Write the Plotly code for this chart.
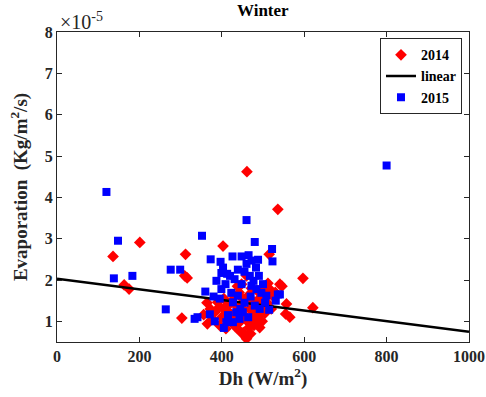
import numpy as np
import plotly.graph_objects as go

# 2014 (red diamonds)
x2014 = [136, 163, 175, 201, 303, 310, 316, 312, 403, 461, 536, 515, 541, 546, 557, 555, 565, 597, 621,
         356, 364, 365, 372, 383, 390, 395, 400, 405, 410, 415, 420, 423, 428, 435, 440, 442, 445, 448,
         450, 452, 455, 458, 460, 460, 462, 464, 466, 468, 470, 472, 475, 478, 480, 484, 486, 490, 492,
         495, 498, 505, 510, 516, 520, 525, 530, 378, 395, 430, 438, 450, 470, 485, 500, 445, 432, 410,
         505, 512]
y2014 = [2.57, 1.88, 1.78, 2.91, 1.08, 2.10, 2.05, 2.62, 2.82, 4.62, 3.71, 2.62, 1.90, 1.85, 1.42, 1.18, 1.10, 2.04, 1.33,
         1.16, 1.45, 0.94, 1.30, 1.22, 1.46, 1.35, 1.10, 1.55, 1.25, 1.40, 1.20, 1.46, 1.05, 1.38, 0.95, 1.70, 0.75, 1.90,
         1.55, 0.73, 1.15, 0.62, 0.58, 2.10, 1.00, 1.62, 0.85, 1.30, 0.70, 1.80, 1.05, 0.90, 1.20, 0.98, 1.50, 1.14, 0.85,
         1.35, 1.00, 1.20, 1.45, 1.78, 1.30, 1.60, 1.70, 1.05, 0.90, 1.60, 1.85, 1.30, 1.55, 1.75, 1.60, 1.35, 0.88, 0.82,
         1.80, 1.92]

# 2015 (blue squares)
x2015 = [120, 148, 138, 183, 264, 276, 299, 334, 341, 352, 360, 373, 371, 383, 397, 403, 399, 387, 409, 399,
         405, 411, 426, 448, 460, 480, 439, 431, 423, 439, 460, 472, 488, 468, 477, 472, 484, 496, 508, 522,
         523, 536, 531, 515, 427, 435, 451, 443, 427, 464, 480, 492, 800, 541, 455, 445, 470, 415, 420, 490,
         500, 455, 465, 483, 448, 413, 395, 380, 505]
y2015 = [4.13, 2.95, 2.04, 2.10, 1.29, 2.25, 2.25, 1.06, 1.10, 3.07, 1.72, 2.50, 1.17, 1.00, 2.44, 2.30, 2.17, 1.98, 1.90, 1.78,
         0.84, 0.98, 2.57, 2.57, 3.45, 2.92, 2.25, 2.02, 1.69, 1.62, 2.39, 2.47, 2.49, 2.10, 1.98, 1.86, 1.78, 1.69, 1.62, 2.75,
         2.45, 1.65, 1.50, 1.28, 1.46, 1.22, 1.22, 1.06, 0.98, 1.10, 1.38, 1.30, 4.77, 1.65, 1.45, 1.30, 1.60, 1.15, 2.10, 2.10,
         1.90, 2.20, 2.60, 2.30, 1.90, 2.15, 1.55, 1.60, 1.45]

# linear fit line (intercept, slope) in units of 1e-5
fit_intercept = 2.03
fit_slope = -0.00128
fit_x = [0, 1000]

FONT = "'Liberation Serif', 'Times New Roman', serif"
AX = "#262626"

fig = go.Figure()
fig.add_trace(go.Scatter(x=x2014, y=y2014, mode="markers", name="2014",
                         marker=dict(symbol="diamond", size=9, color="#ff0000", line=dict(width=0))))
lx = np.array(fit_x, dtype=float)
fig.add_trace(go.Scatter(x=lx, y=fit_intercept + fit_slope * lx, mode="lines", name="linear",
                         line=dict(color="black", width=2.5)))
fig.add_trace(go.Scatter(x=x2015, y=y2015, mode="markers", name="2015",
                         marker=dict(symbol="square", size=8, color="#0000ff", line=dict(width=0))))

axis_common = dict(showgrid=False, zeroline=False, showline=True, linecolor=AX, linewidth=1,
                   mirror="ticks", ticks="inside", ticklen=5, tickcolor=AX,
                   tickfont=dict(family=FONT, size=16, color=AX, weight="bold"))

fig.update_xaxes(range=[0, 1000], tick0=0, dtick=200,
                 title=dict(text="Dh (W/m<sup>2</sup>)",
                            font=dict(family=FONT, size=19, color=AX, weight="bold"), standoff=6),
                 **axis_common)
fig.update_yaxes(range=[0.5, 8], tickvals=[1, 2, 3, 4, 5, 6, 7, 8],
                 title=dict(text="Evaporation  (Kg/m<sup>2</sup>/s)",
                            font=dict(family=FONT, size=19, color=AX, weight="bold"), standoff=12),
                 **axis_common)

fig.update_layout(
    width=486, height=397,
    margin=dict(l=57, r=17, t=32, b=55, autoexpand=False),
    paper_bgcolor="white", plot_bgcolor="white",
    font=dict(family=FONT),
    showlegend=True,
    legend=dict(x=0.983, y=0.98, xanchor="right", yanchor="top",
                bgcolor="white", bordercolor=AX, borderwidth=1,
                font=dict(family=FONT, size=14, color="black", weight="bold"),
                itemwidth=30, tracegroupgap=0),
    annotations=[
        dict(text="Winter", x=0.5, y=1, xref="paper", yref="paper", xanchor="center", yanchor="bottom",
             yshift=10, showarrow=False, font=dict(family=FONT, size=17, color="black", weight="bold")),
        dict(text="×10<sup>-5</sup>", x=0, y=1, xref="paper", yref="paper", xanchor="left", yanchor="bottom",
             xshift=1, yshift=-3, showarrow=False, font=dict(family=FONT, size=20, color=AX)),
    ],
)

fig.write_html("out.html")
